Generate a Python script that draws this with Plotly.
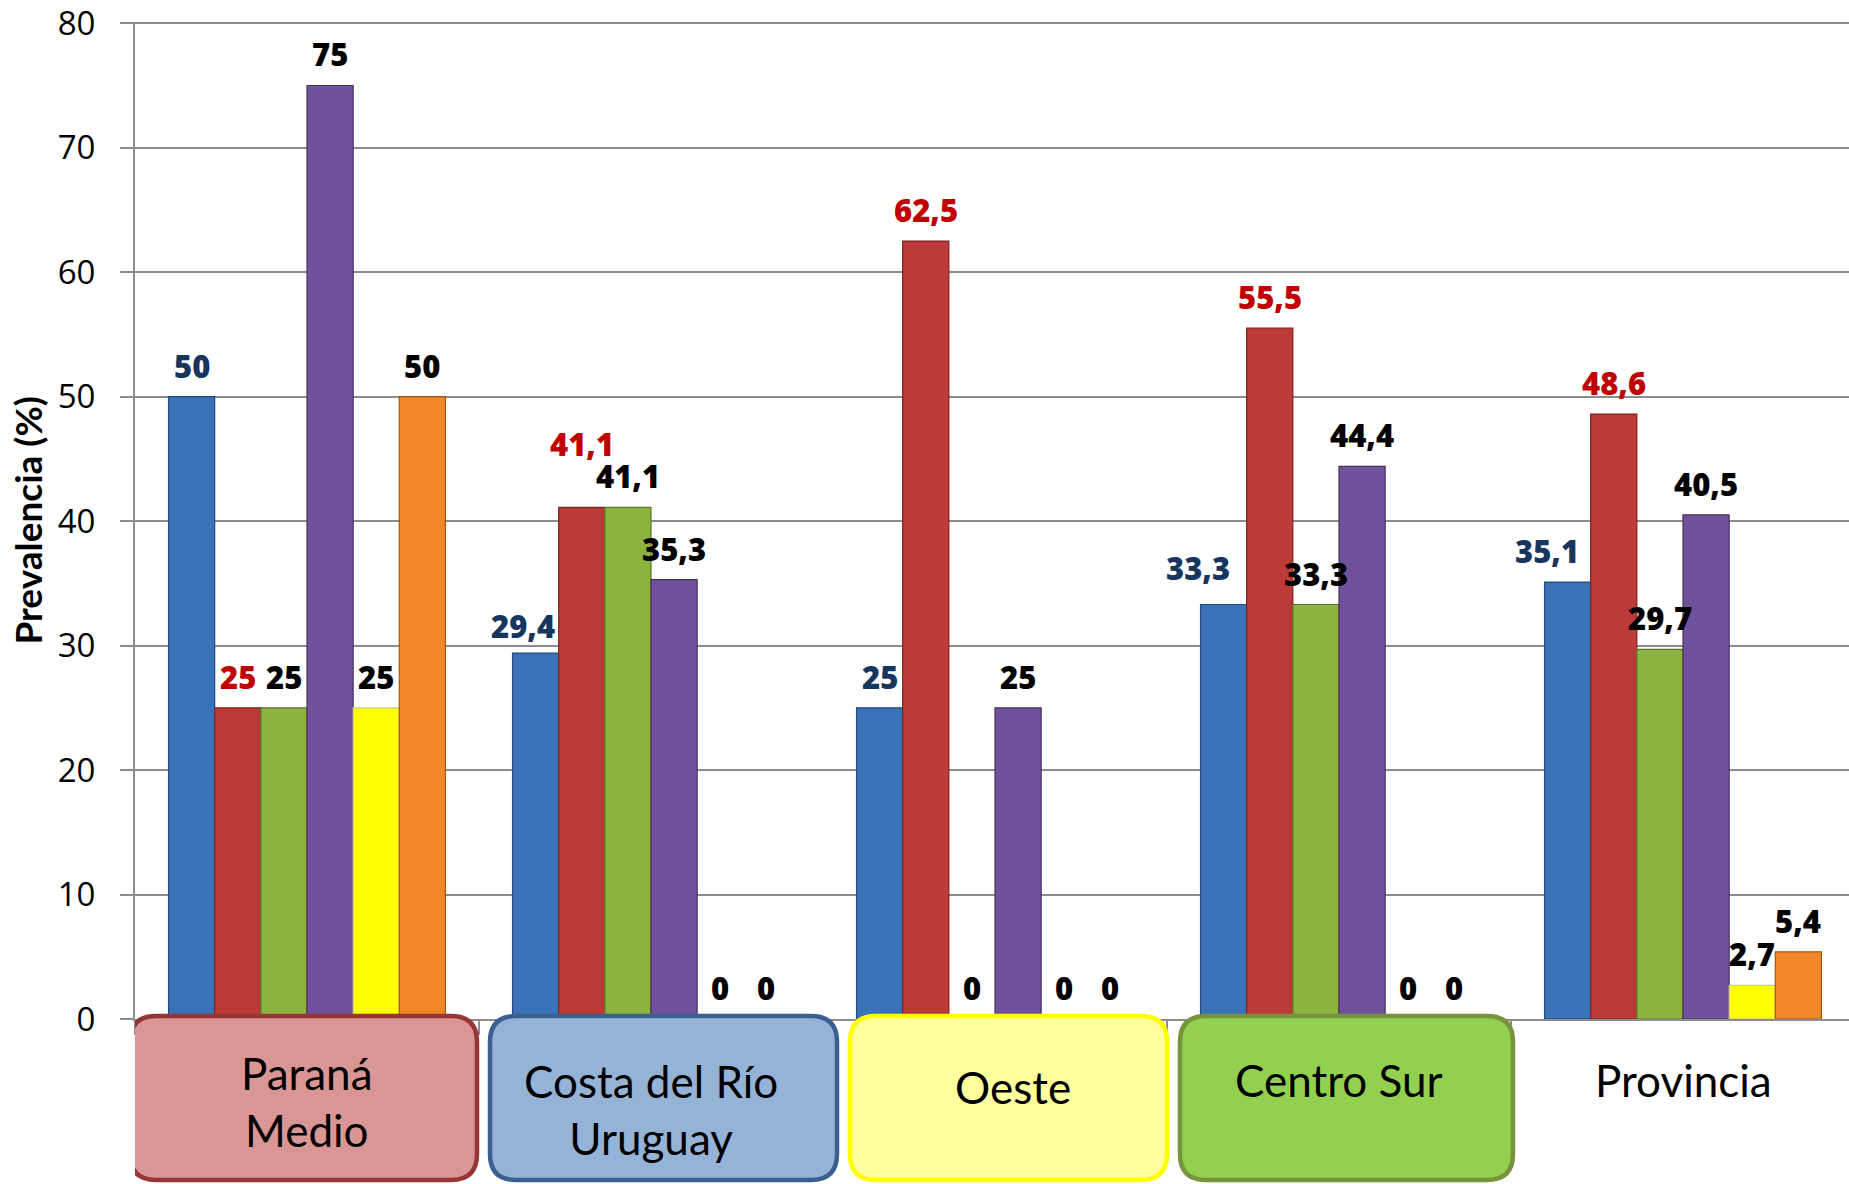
import plotly.graph_objects as go

# ---------------- data ----------------
regions = ["Paraná Medio", "Costa del Río Uruguay", "Oeste", "Centro Sur", "Provincia"]
region_labels = ["Paraná<br>Medio", "Costa del Río<br>Uruguay", "Oeste", "Centro Sur", "Provincia"]
y_ticks = [0, 10, 20, 30, 40, 50, 60, 70, 80]

serie_azul = [50, 29.4, 25, 33.3, 35.1]
serie_roja = [25, 41.1, 62.5, 55.5, 48.6]
serie_verde = [25, 41.1, 0, 33.3, 29.7]
serie_violeta = [75, 35.3, 25, 44.4, 40.5]
serie_amarilla = [25, 0, 0, 0, 2.7]
serie_naranja = [50, 0, 0, 0, 5.4]

series = [serie_azul, serie_roja, serie_verde, serie_violeta, serie_amarilla, serie_naranja]

# ---------------- style ----------------
W, H = 1849, 1184
ML, MR, MT, MB = 135, 0, 22, 165
GROUP_PX = 344
BARGAP = 0.195
Y_TOP = 80.1
bar_colors = ["#3A72B7", "#BC3A37", "#8DB240", "#70529A", "#FFFF00", "#F28729"]
bar_edges = ["#244A78", "#7A2422", "#5A7428", "#46325F", "#C8C8A0", "#A0561A"]
label_colors = ["#17365D", "#C00000", "#000000", "#000000", "#000000", "#000000"]
# per-label nudges (series index, group index) -> (dx px, extra dy px)
label_nudge = {(0, 1): (-13, -4), (1, 1): (0, 32), (0, 3): (-26, 6), (0, 4): (-21, 0)}

box_fill = ["#D99694", "#95B3D7", "#FFFF9E", "#92D050"]
box_line = ["#953735", "#3A6090", "#FFFF00", "#77933C"]
box_px = [(130, 477), (490, 837), (850, 1167), (1180, 1513)]
box_top_px, box_bot_px = 1016, 1180
label_center_px = [1101, 1109, 1087, 1080, 1080]
label_x_shift = [0, 0, 18, 0, 0]

plot_w = W - ML - MR
plot_h = H - MT - MB
x_min = -0.5
x_max = x_min + plot_w / GROUP_PX


def px2x(px):
    return x_min + (px - ML) / GROUP_PX


def py2paper(py):
    return (H - MB - py) / plot_h


fig = go.Figure()
for si, vals in enumerate(series):
    fig.add_trace(go.Bar(
        x=regions, y=vals,
        marker=dict(color=bar_colors[si], line=dict(color=bar_edges[si], width=1.2)),
        showlegend=False, hoverinfo="skip",
    ))

annotations = []
nser = len(series)
bw = (1 - BARGAP) / nser
for si, vals in enumerate(series):
    for gi, v in enumerate(vals):
        dx, dy = label_nudge.get((si, gi), (0, 0))
        txt = f"{v:g}".replace(".", ",")
        annotations.append(dict(
            x=gi + (si - (nser - 1) / 2) * bw, y=v, xref="x", yref="y",
            text=txt, showarrow=False, xanchor="center", yanchor="middle",
            xshift=dx, yshift=31 + dy,
            font=dict(family="Open Sans", size=31, color=label_colors[si], weight=800),
        ))

# region labels
for gi, lab in enumerate(region_labels):
    annotations.append(dict(
        x=gi, y=0, xref="x", yref="paper", text=lab, showarrow=False,
        xanchor="center", yanchor="middle",
        yshift=-(label_center_px[gi] - (H - MB)), xshift=label_x_shift[gi],
        font=dict(family="Lato", size=44, color="#000000"),
    ))

# y axis title
annotations.append(dict(
    x=0, y=0.5, xref="paper", yref="paper", text="<b>Prevalencia (%)</b>",
    showarrow=False, textangle=-90, xanchor="center", yanchor="middle",
    xshift=27 - ML, font=dict(family="Lato", size=37, color="#000000"),
))

# rounded boxes behind region labels
shapes = []
r = 26
for (x0p, x1p), fc, lc in zip(box_px, box_fill, box_line):
    X = px2x
    Y = py2paper
    t, b = box_top_px, box_bot_px
    path = (
        f"M {X(x0p + r)},{Y(t)} L {X(x1p - r)},{Y(t)} "
        f"Q {X(x1p)},{Y(t)} {X(x1p)},{Y(t + r)} "
        f"L {X(x1p)},{Y(b - r)} Q {X(x1p)},{Y(b)} {X(x1p - r)},{Y(b)} "
        f"L {X(x0p + r)},{Y(b)} Q {X(x0p)},{Y(b)} {X(x0p)},{Y(b - r)} "
        f"L {X(x0p)},{Y(t + r)} Q {X(x0p)},{Y(t)} {X(x0p + r)},{Y(t)} Z"
    )
    shapes.append(dict(type="path", path=path, xref="x", yref="paper",
                       fillcolor=fc, line=dict(color=lc, width=4.5), layer="above"))

fig.update_layout(
    width=W, height=H,
    margin=dict(l=ML, r=MR, t=MT, b=MB, pad=0, autoexpand=False),
    paper_bgcolor="white", plot_bgcolor="white",
    barmode="group", bargap=BARGAP, bargroupgap=0,
    annotations=annotations, shapes=shapes,
    xaxis=dict(
        type="category", range=[x_min, x_max], showticklabels=False, automargin=False,
        showline=True, linecolor="#8c8c8c", linewidth=2,
        ticks="outside", tickson="boundaries", ticklen=14, tickcolor="#8c8c8c", tickwidth=1.5,
        showgrid=False, zeroline=False, fixedrange=True,
    ),
    yaxis=dict(
        range=[0, Y_TOP], tickvals=y_ticks, showgrid=True, gridcolor="#8c8c8c", gridwidth=1.8,
        showline=True, linecolor="#8c8c8c", linewidth=2, zeroline=False, automargin=False,
        ticks="outside", ticklen=13, tickcolor="#8c8c8c", tickwidth=1.5,
        ticklabelstandoff=18, ticklabeloverflow="allow",
        tickfont=dict(family="Open Sans", size=33, color="#000000"),
    ),
)

fig.write_html(
    "out.html",
    config={"displayModeBar": False},
    post_script="document.body.style.margin='0';document.body.style.overflow='hidden';",
)
